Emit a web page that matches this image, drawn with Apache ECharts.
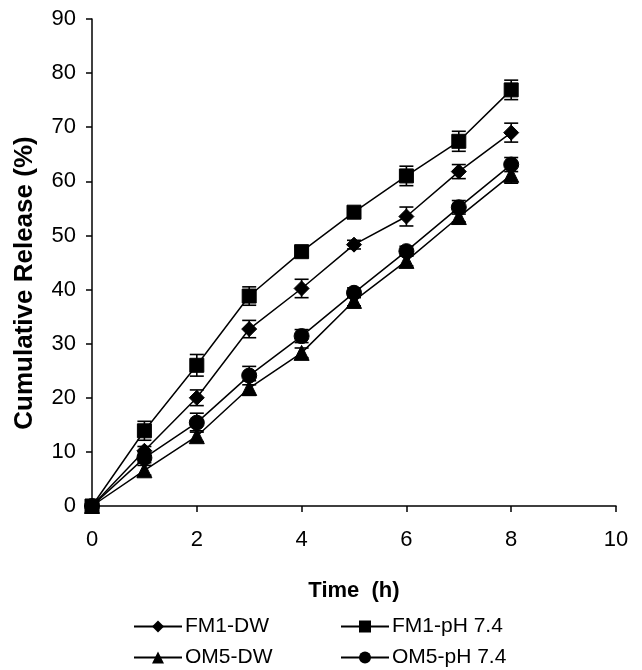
<!DOCTYPE html>
<html>
<head>
<meta charset="utf-8">
<script src="https://cdn.jsdelivr.net/npm/echarts@6/dist/echarts.min.js"></script>
<style>
html,body{margin:0;padding:0;background:#fff;}
#chart{width:642px;height:670px;}
</style>
</head>
<body>
<div id="chart"></div>
<script>
const timeH = [0, 1, 2, 3, 4, 5, 6, 7, 8];
const seriesNames = ['FM1-DW', 'FM1-pH 7.4', 'OM5-DW', 'OM5-pH 7.4'];
const fm1DW = [0, 10.2, 20.0, 32.7, 40.2, 48.3, 53.5, 61.8, 69.0];
const fm1PH = [0, 13.9, 26.0, 38.8, 47.0, 54.3, 61.0, 67.4, 76.9];
const om5DW = [0, 6.6, 12.9, 21.8, 28.3, 37.9, 45.3, 53.4, 61.2];
const om5PH = [0, 8.9, 15.4, 24.1, 31.4, 39.4, 47.1, 55.2, 63.1];
const fm1DWerr = [0, 0.8, 1.45, 1.6, 1.7, 0.8, 1.75, 1.3, 1.75];
const fm1PHerr = [0, 1.75, 2.0, 1.7, 0.9, 0.9, 1.8, 1.85, 1.8];
const om5DWerr = [0, 0.9, 1.0, 1.35, 0.9, 0.9, 0.9, 0.9, 1.55];
const om5PHerr = [0, 0.9, 1.75, 1.7, 1.2, 0.9, 0.9, 1.25, 1.3];
const xTicks = [0, 2, 4, 6, 8, 10];
const yTicks = [0, 10, 20, 30, 40, 50, 60, 70, 80, 90];
const xTitle = 'Time  (h)';
const yTitle = 'Cumulative Release (%)';

const FONT = '"Liberation Sans", Arial, sans-serif';
const values = [fm1DW, fm1PH, om5DW, om5PH];
const errs = [fm1DWerr, fm1PHerr, om5DWerr, om5PHerr];
const symbols = ['diamond', 'rect', 'triangle', 'circle'];
const sizes = [15, 14, 15, 15];

const series = [];
values.forEach((vals, i) => {
  series.push({
    name: seriesNames[i],
    type: 'line',
    data: timeH.map((t, k) => [t, vals[k]]),
    symbol: symbols[i],
    symbolSize: sizes[i],
    showAllSymbol: true,
    lineStyle: {color: '#000', width: 1.5},
    itemStyle: {color: '#000', borderColor: '#000'},
    z: 3,
    animation: false
  });
});
values.forEach((vals, i) => {
  series.push({
    type: 'custom',
    data: timeH.map((t, k) => [t, vals[k] - errs[i][k], vals[k] + errs[i][k]]),
    renderItem: function (params, api) {
      if (api.value(2) - api.value(1) <= 0) return null;
      const lo = api.coord([api.value(0), api.value(1)]);
      const hi = api.coord([api.value(0), api.value(2)]);
      const w = 7;
      const st = {stroke: '#000', lineWidth: 1.6};
      return {
        type: 'group',
        children: [
          {type: 'line', shape: {x1: lo[0], y1: lo[1], x2: hi[0], y2: hi[1]}, style: st},
          {type: 'line', shape: {x1: lo[0] - w, y1: lo[1], x2: lo[0] + w, y2: lo[1]}, style: st},
          {type: 'line', shape: {x1: hi[0] - w, y1: hi[1], x2: hi[0] + w, y2: hi[1]}, style: st}
        ]
      };
    },
    z: 4,
    silent: true,
    animation: false
  });
});

function legendAt(name, left, top) {
  return {
    data: [name],
    left: left, top: top,
    orient: 'horizontal',
    padding: 0,
    itemWidth: 48,
    itemHeight: 15,
    itemGap: 0,
    textStyle: {fontFamily: FONT, fontSize: 21, color: '#000', padding: [0, 0, 0, -2]}
  };
}

const chart = echarts.init(document.getElementById('chart'), null, {renderer: 'canvas'});
chart.setOption({
  backgroundColor: '#fff',
  animation: false,
  grid: {left: 92, right: 26, top: 19, bottom: 164, containLabel: false},
  xAxis: {
    type: 'value',
    min: 0, max: 10, interval: 2,
    name: xTitle,
    nameLocation: 'middle',
    nameGap: 74,
    nameTextStyle: {fontFamily: FONT, fontSize: 22, fontWeight: 'bold', color: '#000'},
    axisLine: {lineStyle: {color: '#000', width: 1.5}},
    axisTick: {show: true, inside: false, length: 6, lineStyle: {color: '#000', width: 1.5}},
    axisLabel: {fontFamily: FONT, fontSize: 22, color: '#000', margin: 23,
      formatter: v => xTicks.includes(v) ? String(v) : ''},
    splitLine: {show: false}
  },
  yAxis: {
    type: 'value',
    min: 0, max: 90, interval: 10,
    axisLine: {show: true, lineStyle: {color: '#000', width: 1.5}},
    axisTick: {show: true, inside: false, length: 6, lineStyle: {color: '#000', width: 1.5}},
    axisLabel: {fontFamily: FONT, fontSize: 22, color: '#000', margin: 16,
      formatter: v => yTicks.includes(v) ? String(v) : ''},
    splitLine: {show: false}
  },
  graphic: [{
    type: 'text',
    x: 25, y: 283,
    rotation: Math.PI / 2,
    style: {
      text: yTitle,
      font: 'bold 26px ' + FONT,
      fill: '#000',
      align: 'center',
      verticalAlign: 'middle'
    }
  }],
  legend: [
    legendAt(seriesNames[0], 133, 616),
    legendAt(seriesNames[1], 340, 616),
    legendAt(seriesNames[2], 133, 647),
    legendAt(seriesNames[3], 340, 647)
  ],
  series: series
});
</script>
</body>
</html>
